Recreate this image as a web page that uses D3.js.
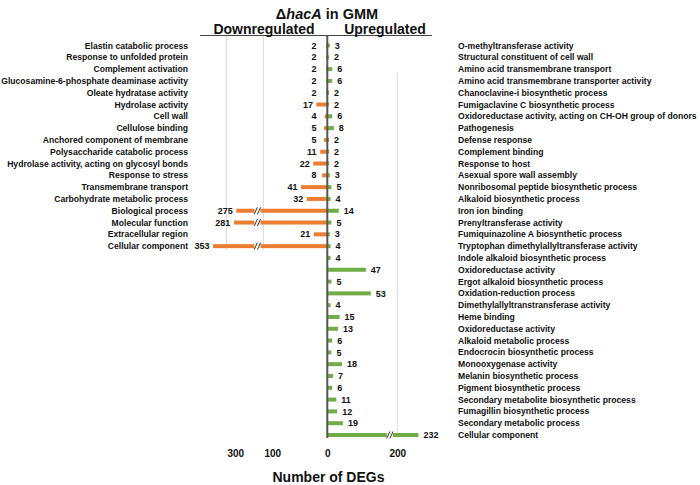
<!DOCTYPE html>
<html>
<head>
<meta charset="utf-8">
<script src="https://cdn.jsdelivr.net/npm/d3@7"></script>
<style>
  html, body { margin: 0; padding: 0; background: #fff; }
  svg { display: block; font-family: "Liberation Sans", Arial, sans-serif; }
</style>
</head>
<body>
<svg id="chart" width="700" height="485"></svg>
<script>
// ---------------- DATA ----------------
const downLabels = [
  "Elastin catabolic process",
  "Response to unfolded protein",
  "Complement activation",
  "Glucosamine-6-phosphate deaminase activity",
  "Oleate hydratase activity",
  "Hydrolase activity",
  "Cell wall",
  "Cellulose binding",
  "Anchored component of membrane",
  "Polysaccharide catabolic process",
  "Hydrolase activity, acting on glycosyl bonds",
  "Response to stress",
  "Transmembrane transport",
  "Carbohydrate metabolic process",
  "Biological process",
  "Molecular function",
  "Extracellular region",
  "Cellular component"
];
const downValues = [2, 2, 2, 2, 2, 17, 4, 5, 5, 11, 22, 8, 41, 32, 275, 281, 21, 353];

const upLabels = [
  "O-methyltransferase activity",
  "Structural constituent of cell wall",
  "Amino acid transmembrane transport",
  "Amino acid transmembrane transporter activity",
  "Chanoclavine-i biosynthetic process",
  "Fumigaclavine C biosynthetic process",
  "Oxidoreductase activity, acting on CH-OH group of donors",
  "Pathogenesis",
  "Defense response",
  "Complement binding",
  "Response to host",
  "Asexual spore wall assembly",
  "Nonribosomal peptide biosynthetic process",
  "Alkaloid biosynthetic process",
  "Iron ion binding",
  "Prenyltransferase activity",
  "Fumiquinazoline A biosynthetic process",
  "Tryptophan dimethylallyltransferase activity",
  "Indole alkaloid biosynthetic process",
  "Oxidoreductase activity",
  "Ergot alkaloid biosynthetic process",
  "Oxidation-reduction process",
  "Dimethylallyltranstransferase activity",
  "Heme binding",
  "Oxidoreductase activity",
  "Alkaloid metabolic process",
  "Endocrocin biosynthetic process",
  "Monooxygenase activity",
  "Melanin biosynthetic process",
  "Pigment biosynthetic process",
  "Secondary metabolite biosynthetic process",
  "Fumagillin biosynthetic process",
  "Secondary metabolic process",
  "Cellular component"
];
const upValues = [3, 2, 6, 6, 2, 2, 6, 8, 2, 2, 2, 3, 5, 4, 14, 5, 3, 4, 4, 47, 5, 53, 4, 15, 13, 6, 5, 18, 7, 6, 11, 12, 19, 232];

const downTicks = [100, 300];
const upTicks = [0, 200];
const downBreakAt = 250, downBreakMark = 145;
const upBreakAt = 200, upBreakMark = 150;

const titleMain = "\u0394";
const titleItalic = "hacA";
const titleRest = " in GMM";
const downHeader = "Downregulated";
const upHeader = "Upregulated";
const xTitle = "Number of DEGs";

// ---------------- LAYOUT ----------------
const ORANGE = "#ED7D31", GREEN = "#70AD47";
const x0 = 327.3;
const svg = d3.select("#chart");

const nRows = upLabels.length;
const y = d3.scalePoint().domain(d3.range(nRows)).range([45.5, 435]);
const barH = 4;

// broken (piecewise) scales
const xDown = d3.scaleLinear().domain([0, 100, 260, 300, 400])
  .range([x0, x0 - 64, x0 - 85, x0 - 101, x0 - 126]);
const xUp = d3.scaleLinear().domain([0, 60, 200, 300])
  .range([x0, x0 + 49.2, x0 + 70, x0 + 136]);

const downData = downValues.map((v, i) => ({ i, v, label: downLabels[i] }));
const upData = upValues.map((v, i) => ({ i, v, label: upLabels[i] }));

// ---------------- GRIDLINES ----------------
const g = svg.append("g");
g.selectAll("line.gd").data(downTicks).enter().append("line")
  .attr("x1", d => xDown(d)).attr("x2", d => xDown(d))
  .attr("y1", 35).attr("y2", y(downValues.length - 1) + 4)
  .attr("stroke", "#d9d9d9").attr("stroke-width", 1);
g.selectAll("line.gu").data(upTicks.filter(d => d > 0)).enter().append("line")
  .attr("x1", d => xUp(d)).attr("x2", d => xUp(d))
  .attr("y1", 73).attr("y2", 438)
  .attr("stroke", "#d9d9d9").attr("stroke-width", 1);

// ---------------- BARS ----------------
g.selectAll("rect.down").data(downData).enter().append("rect")
  .attr("x", d => xDown(d.v)).attr("width", d => x0 - xDown(d.v))
  .attr("y", d => y(d.i) - barH / 2).attr("height", barH)
  .attr("fill", ORANGE);
g.selectAll("rect.up").data(upData).enter().append("rect")
  .attr("x", x0).attr("width", d => xUp(d.v) - x0)
  .attr("y", d => y(d.i) - barH / 2).attr("height", barH)
  .attr("fill", GREEN);

// break marks
function drawBreak(cx, cy) {
  g.append("rect").attr("x", cx - 3).attr("y", cy - 4).attr("width", 6).attr("height", 8).attr("fill", "#fff");
  [-1.6, 1.6].forEach(o => {
    g.append("line")
      .attr("x1", cx + o - 1.6).attr("y1", cy + 3.5)
      .attr("x2", cx + o + 1.6).attr("y2", cy - 3.5)
      .attr("stroke", "#333").attr("stroke-width", 1);
  });
}
downData.filter(d => d.v > downBreakAt).forEach(d => drawBreak(xDown(downBreakMark), y(d.i)));
upData.filter(d => d.v > upBreakAt).forEach(d => drawBreak(xUp(upBreakMark), y(d.i)));

// ---------------- ZERO AXIS + HEADER LINE ----------------
g.append("line").attr("x1", x0).attr("x2", x0).attr("y1", 35).attr("y2", 438)
  .attr("stroke", "#555").attr("stroke-width", 2);
g.append("line").attr("x1", 200).attr("x2", 432).attr("y1", 35.5).attr("y2", 35.5)
  .attr("stroke", "#444").attr("stroke-width", 1);

// ---------------- VALUE LABELS ----------------
g.selectAll("text.dv").data(downData).enter().append("text")
  .attr("x", d => Math.min(xDown(d.v) - 3.5, 316.5))
  .attr("y", d => y(d.i)).attr("dy", "0.35em")
  .attr("text-anchor", "end").attr("font-size", 9).attr("font-weight", "bold")
  .attr("fill", "#111").text(d => d.v);
g.selectAll("text.uv").data(upData).enter().append("text")
  .attr("x", d => Math.max(xUp(d.v) + 5, 334))
  .attr("y", d => y(d.i)).attr("dy", "0.35em")
  .attr("text-anchor", "start").attr("font-size", 9).attr("font-weight", "bold")
  .attr("fill", "#111").text(d => d.v);

// ---------------- CATEGORY LABELS ----------------
g.selectAll("text.dl").data(downData).enter().append("text")
  .attr("x", 188).attr("y", d => y(d.i)).attr("dy", "0.35em")
  .attr("text-anchor", "end").attr("font-size", 8.6).attr("font-weight", "bold")
  .attr("fill", "#111").text(d => d.label);
g.selectAll("text.ul").data(upData).enter().append("text")
  .attr("x", 458).attr("y", d => y(d.i)).attr("dy", "0.35em")
  .attr("text-anchor", "start").attr("font-size", 8.6).attr("font-weight", "bold")
  .attr("fill", "#111").text(d => d.label);

// ---------------- AXES (tick labels only) ----------------
const axDown = d3.axisBottom(xDown).tickValues(downTicks).tickSize(0).tickFormat(d3.format("d"));
const axUp = d3.axisBottom(xUp).tickValues(upTicks).tickSize(0).tickFormat(d3.format("d"));
const ga = svg.append("g").attr("transform", "translate(0,447)").call(axDown);
const gb = svg.append("g").attr("transform", "translate(0,447)").call(axUp);
[ga, gb].forEach(a => {
  a.select(".domain").remove();
  a.selectAll("text").attr("font-size", 10).attr("font-weight", "bold")
    .attr("fill", "#111").attr("font-family", "Liberation Sans, Arial, sans-serif");
});
ga.selectAll("text").attr("dx", 9);

// ---------------- TITLES ----------------
const t = svg.append("text").attr("x", 327).attr("y", 18.5).attr("text-anchor", "middle")
  .attr("font-size", 14.5).attr("font-weight", "bold").attr("fill", "#111");
t.append("tspan").text(titleMain);
t.append("tspan").attr("font-style", "italic").text(titleItalic);
t.append("tspan").text(titleRest);

svg.append("text").attr("x", 264).attr("y", 33.5).attr("text-anchor", "middle")
  .attr("font-size", 14).attr("font-weight", "bold").attr("fill", "#111").text(downHeader);
svg.append("text").attr("x", 385).attr("y", 33.5).attr("text-anchor", "middle")
  .attr("font-size", 14).attr("font-weight", "bold").attr("fill", "#111").text(upHeader);

svg.append("text").attr("x", 328.5).attr("y", 482).attr("text-anchor", "middle")
  .attr("font-size", 14).attr("font-weight", "bold").attr("fill", "#111").text(xTitle);
</script>
</body>
</html>
